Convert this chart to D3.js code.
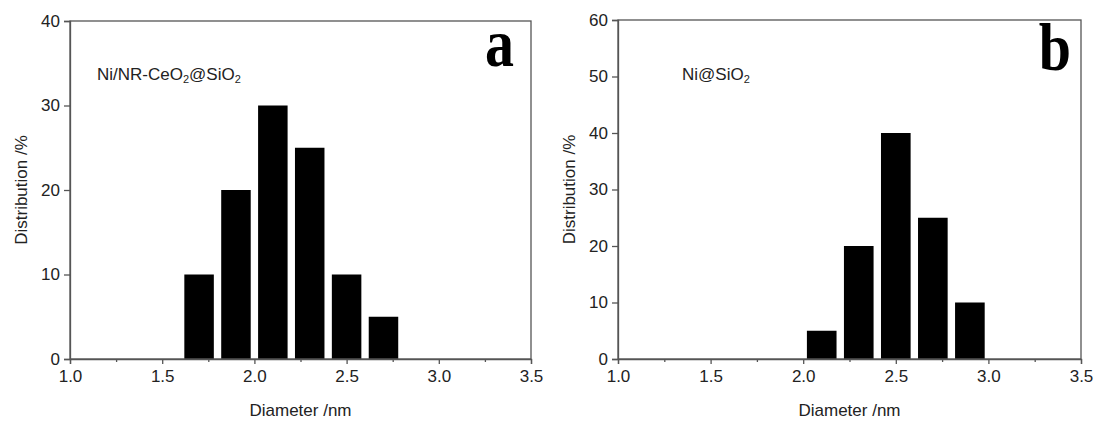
<!DOCTYPE html>
<html>
<head>
<meta charset="utf-8">
<script src="https://cdn.jsdelivr.net/npm/d3@7"></script>
<style>
  body { margin: 0; background: #fff; }
  svg { display: block; }
  .tick text { font-family: "Liberation Sans", Arial, sans-serif; font-size: 17px; fill: #222; }
</style>
</head>
<body>
<div id="chart"></div>
<script>
// panel a: Ni/NR-CeO2@SiO2
const diamA = [1.7, 1.9, 2.1, 2.3, 2.5, 2.7];
const distA = [10, 20, 30, 25, 10, 5];
// panel b: Ni@SiO2
const diamB = [2.1, 2.3, 2.5, 2.7, 2.9];
const distB = [5, 20, 40, 25, 10];

const xTicks = [1.0, 1.5, 2.0, 2.5, 3.0, 3.5];
const xMinor = [1.25, 1.75, 2.25, 2.75, 3.25];
const yTicksA = [0, 10, 20, 30, 40];
const yTicksB = [0, 10, 20, 30, 40, 50, 60];

const binWidth = 0.16;

const svg = d3.select("#chart").append("svg")
  .attr("width", 1097)
  .attr("height", 423);

//-------------------------------------------------------------------
function drawPanel(opt) {
  const x = d3.scaleLinear().domain([1.0, 3.5]).range([opt.left, opt.right]);
  const y = d3.scaleLinear().domain([0, opt.yMax]).range([opt.bottom, opt.top]);
  const g = svg.append("g");

  // bars
  g.selectAll("rect.bar")
    .data(opt.diam.map((d, i) => ({ d: d, v: opt.dist[i] })))
    .enter().append("rect")
      .attr("class", "bar")
      .attr("x", d => x(d.d - binWidth / 2))
      .attr("width", d => x(d.d + binWidth / 2) - x(d.d - binWidth / 2))
      .attr("y", d => y(d.v))
      .attr("height", d => y(0) - y(d.v))
      .attr("fill", "#000");

  // frame
  g.append("rect")
    .attr("x", opt.left).attr("y", opt.top)
    .attr("width", opt.right - opt.left).attr("height", opt.bottom - opt.top)
    .attr("fill", "none").attr("stroke", "#555").attr("stroke-width", 1.3);

  // x axis
  const xa = g.append("g")
    .attr("transform", "translate(0," + opt.bottom + ")")
    .call(d3.axisBottom(x).tickValues(xTicks).tickFormat(d3.format(".1f")).tickSize(5).tickPadding(6));
  xa.select(".domain").attr("stroke", "#555").attr("stroke-width", 1.3);
  xa.selectAll(".tick line").attr("stroke", "#555").attr("stroke-width", 1.3);

  g.append("g")
    .attr("transform", "translate(0," + opt.bottom + ")")
    .call(d3.axisBottom(x).tickValues(xMinor).tickSize(3).tickFormat(""))
    .call(s => s.select(".domain").remove())
    .selectAll(".tick line").attr("stroke", "#555").attr("stroke-width", 1.3);

  // y axis
  const ya = g.append("g")
    .attr("transform", "translate(" + opt.left + ",0)")
    .call(d3.axisLeft(y).tickValues(opt.yTicks).tickSize(6).tickPadding(4));
  ya.select(".domain").attr("stroke", "#555").attr("stroke-width", 1.3);
  ya.selectAll(".tick line").attr("stroke", "#555").attr("stroke-width", 1.3);

  // axis titles
  g.append("text")
    .attr("x", (opt.left + opt.right) / 2)
    .attr("y", 416)
    .attr("text-anchor", "middle")
    .style("font-family", "Liberation Sans, Arial, sans-serif")
    .style("font-size", "17px").attr("fill", "#222")
    .text("Diameter /nm");

  g.append("text")
    .attr("transform", "translate(" + opt.yTitleX + "," + (opt.top + opt.bottom) / 2 + ") rotate(-90)")
    .attr("text-anchor", "middle")
    .style("font-family", "Liberation Sans, Arial, sans-serif")
    .style("font-size", "17px").attr("fill", "#222")
    .text("Distribution /%");

  // sample label with subscripts
  const lab = g.append("text")
    .attr("x", opt.labelX).attr("y", opt.labelY)
    .style("font-family", "Liberation Sans, Arial, sans-serif")
    .style("font-size", "17px").attr("fill", "#222");
  opt.label.forEach(part => {
    lab.append("tspan")
      .attr("baseline-shift", part.sub ? "-30%" : null)
      .style("font-size", part.sub ? "11px" : null)
      .text(part.t);
  });

  // panel letter
  g.append("text")
    .attr("transform", "translate(" + opt.letterX + "," + opt.letterY + ") scale(1,1.15)")
    .attr("text-anchor", "end")
    .style("font-family", "Liberation Serif, Times New Roman, serif")
    .style("font-weight", "bold")
    .style("font-size", "58px").attr("fill", "#000")
    .text(opt.letter);
}

drawPanel({
  left: 70, right: 531, top: 21, bottom: 359,
  yMax: 40, yTicks: yTicksA, diam: diamA, dist: distA,
  yTitleX: 27,
  label: [{t: "Ni/NR-CeO"}, {t: "2", sub: true}, {t: "@SiO"}, {t: "2", sub: true}],
  labelX: 97, labelY: 80,
  letter: "a", letterX: 514, letterY: 66
});

drawPanel({
  left: 618, right: 1081, top: 20, bottom: 359,
  yMax: 60, yTicks: yTicksB, diam: diamB, dist: distB,
  yTitleX: 575,
  label: [{t: "Ni@SiO"}, {t: "2", sub: true}],
  labelX: 682, labelY: 80,
  letter: "b", letterX: 1071, letterY: 70
});
</script>
</body>
</html>
